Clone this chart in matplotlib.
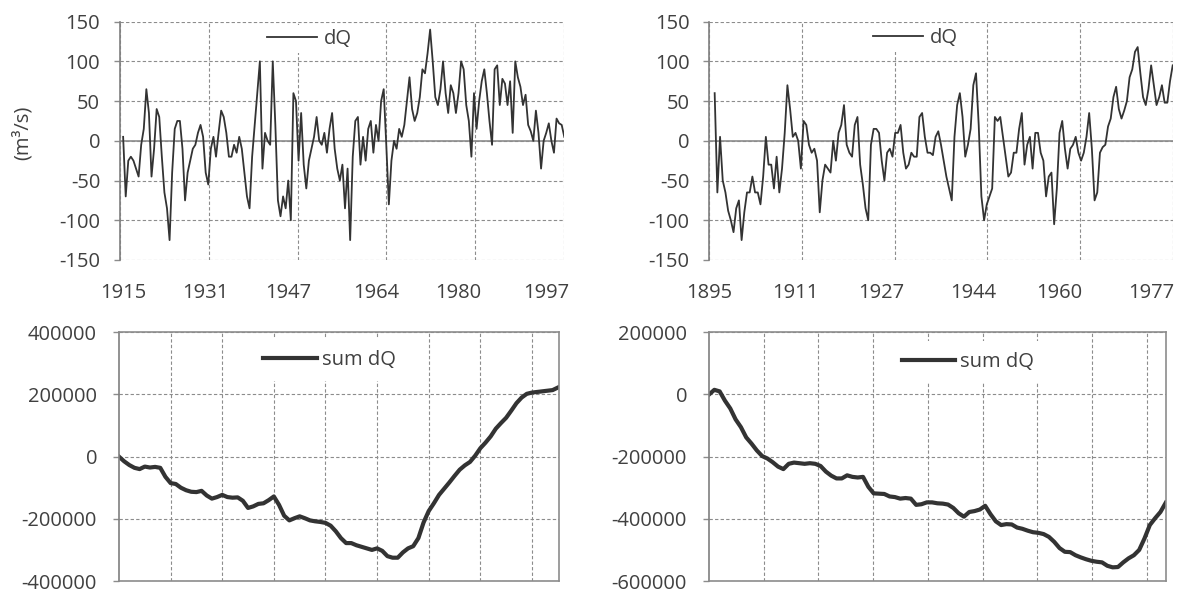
import numpy as np
import matplotlib
matplotlib.use("Agg")
import matplotlib.pyplot as plt

plt.rcParams['font.family'] = ['Open Sans', 'DejaVu Sans']
plt.rcParams['axes.unicode_minus'] = False

# ---- data ----
# top left: dQ (m3/s), half-year steps from 1915.0
dq_left_start = 1915.0
dq_left = [
    5, -70, -25, -20, -25, -35, -45, -5, 15, 65, 35, -45, -10, 40, 30, -20, -65, -85, -125, -40,
    15, 25, 25, -10, -75, -40, -25, -10, -5, 10, 20, 5, -40, -55, -10, 5, -20, 10, 38, 30, 10, -20,
    -20, -5, -15, 5, -10, -40, -70, -85, -20, 20, 60, 100, -35, 10, 0, -5, 100, 20, -75, -95,
    -70, -85, -50, -100, 60, 50, -25, 35, -30, -60, -25, -10, 5, 30, 0, -5, 10, -15, 15, 35,
    -10, -35, -50, -30, -85, -35, -125, -20, 25, 30, -30, 5, -25, 15, 25, -15, 20, 0, 50, 65,
    -5, -80, -25, 0, -10, 15,
    5, 20, 50, 80, 40, 25, 35, 55, 90, 85, 110, 140, 100, 55, 45, 65, 100, 60, 35, 70,
    60, 35, 60, 100, 90, 45, 25, -20, 60, 15, 50, 75, 90, 60, 25, -5, 90, 95, 45, 78,
    72, 45, 75, 10, 100, 80, 68, 45, 58, 20, 12, 0, 38, 10, -35, 0, 10, 22, 0, -15,
    28, 22, 20, 5,
]
# top right: dQ, half-year steps from 1896.0
dq_right_start = 1896.0
dq_right = [
    60, -65, 5, -50, -65, -88, -100, -115, -85, -75, -125, -90, -65, -65, -45, -65, -65, -80, -45, 5,
    -30, -30, -60, -20, -65, -35, 10, 70, 40, 5, 10, 0, -35, 25, 20, -5, -15, -10, -25, -90,
    -50, -30, -35, -40, 0, -25, 10,
    20, 45, -5, -15, -20, 20, 30, -30, -55, -85, -100, -5, 15, 15, 10, -25, -50, -15, -10, -20,
    10, 10, 20, -15, -35, -30, -15, -20, -20, 30, 35, 5, -15, -15, -18, 5, 12, -5, -25, -45,
    -60, -75, 5, 45, 60, 30, -20, -5, 15, 70, 85, 20, -70, -100, -80, -70, -60, 30, 25, 30,
    5, -20, -45,
    -40, -15, -15, 15, 35, -30, -5, 5, -35, 10, 10, -15, -25, -70, -45, -40, -105, -60, 10, 25,
    -10, -35, -10, -5, 5, -15, -25, -15, 5, 35, -10, -75, -65, -15, -8, -5, 18, 28, 55, 68,
    40, 28, 38, 50, 80, 90, 112, 118, 85, 55, 45, 65, 95, 70, 45, 55, 70, 48, 48, 75, 95,
]
# bottom left: sum dQ, yearly from 1915
sum_left_start = 1915
sum_left = [
    0, -15000, -27000, -36000, -40000, -32000, -35000, -33000, -36000, -65000,
    -85000, -88000, -100000, -108000, -113000, -114000, -110000, -125000, -135000, -130000,
    -123000, -130000, -132000, -131000, -142000, -165000, -160000, -152000, -150000, -140000,
    -128000, -155000, -190000, -205000, -198000, -192000, -198000, -205000, -208000, -210000,
    -213000, -222000, -240000, -262000, -278000, -278000, -285000, -290000, -295000, -300000,
    -295000, -303000, -320000, -325000, -325000, -308000, -295000, -288000, -262000, -212000,
    -175000, -150000, -123000, -103000, -83000, -62000, -42000, -28000, -17000, 3000,
    27000, 45000, 65000, 90000, 108000, 125000, 148000, 172000, 190000, 202000,
    206000, 208000, 210000, 212000, 214000, 222000,
]
# bottom right: sum dQ, yearly from 1895
sum_right_start = 1895
sum_right = [
    0, 15000, 10000, -20000, -45000, -80000, -105000, -138000, -158000, -180000,
    -198000, -206000, -218000, -232000, -240000, -223000, -219000, -221000, -223000, -221000,
    -223000, -230000, -248000, -261000, -270000, -270000, -260000, -265000, -267000, -265000,
    -297000, -318000, -319000, -320000, -328000, -330000, -335000, -333000, -335000, -355000,
    -353000, -347000, -347000, -350000, -351000, -354000, -365000, -382000, -393000, -378000,
    -375000, -370000, -358000, -385000, -408000, -420000, -417000, -418000, -428000, -432000,
    -438000, -443000, -445000, -449000, -458000, -474000, -494000, -506000, -507000, -517000,
    -524000, -530000, -535000, -538000, -540000, -551000, -556000, -555000, -540000, -527000,
    -517000, -500000, -463000, -420000, -398000, -378000, -348000,
]

left_years = [1915, 1931, 1947, 1964, 1980, 1997]
right_years = [1895, 1911, 1927, 1944, 1960, 1977]

x_dq_left = dq_left_start + 0.5 * np.arange(len(dq_left))
x_dq_right = dq_right_start + 0.5 * np.arange(len(dq_right))
x_sum_left = sum_left_start + np.arange(len(sum_left))
x_sum_right = sum_right_start + np.arange(len(sum_right))

FS = 14.5
TXT = '#404040'
GRID = '#8c8c8c'
LINE = '#333333'
DASH = (0, (3, 2))


def legend(ax, x, y, pad, hl, htp):
    leg = ax.legend(loc='center left', bbox_to_anchor=(x, y), borderaxespad=0,
                    borderpad=pad, handlelength=hl, handletextpad=htp,
                    frameon=True, fancybox=False, framealpha=1, fontsize=FS,
                    labelcolor=TXT)
    leg.get_frame().set_edgecolor('none')
    leg.get_frame().set_facecolor('white')


def top_panel(ax, x, y, xlim, years):
    ax.plot(x, y, color=LINE, lw=1.3, label='dQ')
    ax.set_xlim(xlim)
    ax.set_ylim(-150, 150)
    ax.set_yticks(range(-150, 151, 50))
    ax.xaxis.remove_overlapping_locs = False
    ax.set_xticks(np.linspace(xlim[0], xlim[1], 6))
    ax.set_xticklabels([])
    ax.set_xticks(years, [str(v) for v in years], minor=True)
    ax.tick_params(axis='x', which='both', length=0, pad=16.5, labelsize=FS, labelcolor=TXT)
    ax.tick_params(axis='y', length=4.3, width=1, color=GRID, pad=10, labelsize=FS, labelcolor=TXT)
    ax.grid(True, which='major', color=GRID, ls=DASH, lw=0.8)
    ax.axhline(0, color=GRID, lw=1.2, zorder=1.5)
    for s in ['top', 'right', 'bottom']:
        ax.spines[s].set_visible(False)
    ax.spines['left'].set_color('#7f7f7f')
    ax.spines['left'].set_linewidth(1.2)


def bottom_panel(ax, x, y, xlim, ylim, grid_x):
    ax.plot(x, y, color=LINE, lw=3.0, label='sum dQ')
    ax.set_xlim(xlim)
    ax.set_ylim(ylim)
    ax.set_yticks(range(ylim[0], ylim[1] + 1, 200000))
    ax.set_xticks(grid_x)
    ax.set_xticklabels([])
    ax.tick_params(axis='x', length=0)
    ax.tick_params(axis='y', length=4.3, width=1, color=GRID, pad=11.5, labelsize=FS, labelcolor=TXT)
    ax.grid(True, color=GRID, ls=DASH, lw=0.8)
    for s in ax.spines.values():
        s.set_color(GRID)
        s.set_linewidth(1.2)
    ax.spines['left'].set_color('#7f7f7f')


fig = plt.figure(figsize=(11.78, 5.93), dpi=100)
ax1 = fig.add_axes([0.1019, 0.5616, 0.3769, 0.4019])
ax2 = fig.add_axes([0.6021, 0.5616, 0.3934, 0.4019])
ax3 = fig.add_axes([0.1010, 0.0202, 0.3738, 0.4195])
ax4 = fig.add_axes([0.6019, 0.0202, 0.3877, 0.4194])

top_panel(ax1, x_dq_left, dq_left, (1914.4, 2000.45), left_years)
top_panel(ax2, x_dq_right, dq_right, (1895.0, 1981.0), right_years)
legend(ax1, 0.321, 0.927, 0.2, 2.49, 0.35)
legend(ax2, 0.344, 0.933, 0.2, 2.49, 0.35)

bottom_panel(ax3, x_sum_left, sum_left, (1915, 2000.3), (-400000, 400000),
             np.arange(1925, 2000, 10))
bottom_panel(ax4, x_sum_right, sum_right, (1895, 1981), (-600000, 200000),
             1895 + 10.3 * np.arange(1, 9))
legend(ax3, 0.303, 0.887, 0.55, 2.64, 0.25)
legend(ax4, 0.398, 0.880, 0.55, 2.64, 0.25)

fig.text(0.0195, 0.7757, '(m\u00b3/s)', rotation=90, ha='center', va='center',
         fontsize=FS, color=TXT)

fig.savefig('out.png', dpi=100)
